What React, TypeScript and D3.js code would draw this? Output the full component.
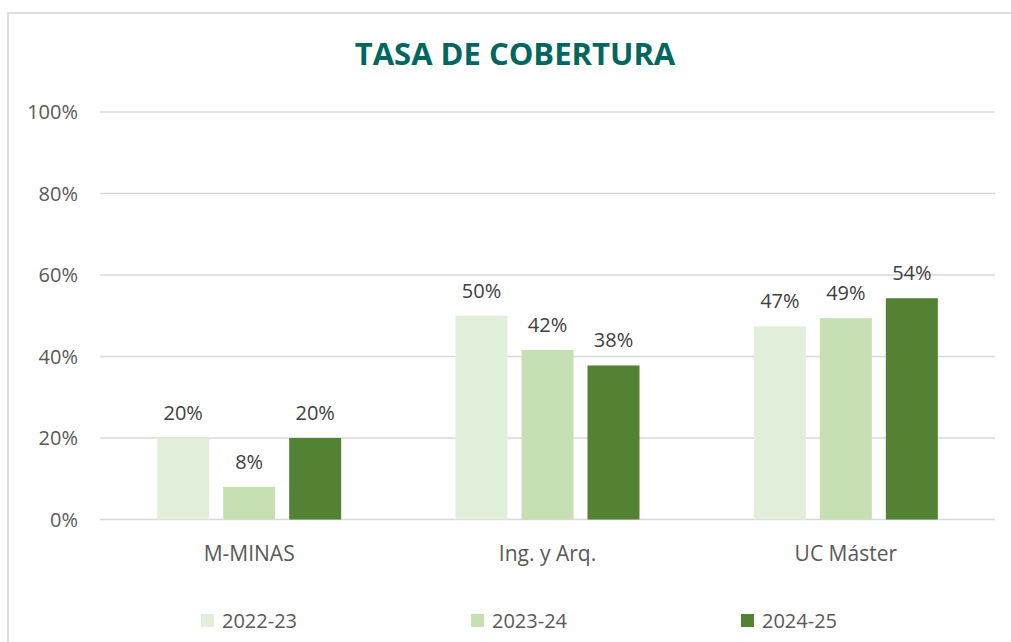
import React from "react";
import * as d3 from "d3";

const categories = ["M-MINAS", "Ing. y Arq.", "UC Máster"];
const seriesNames = ["2022-23", "2023-24", "2024-25"];
const values2022 = [0.2, 0.5, 0.474];
const values2023 = [0.08, 0.416, 0.494];
const values2024 = [0.2, 0.378, 0.543];
const yTicks = [0, 0.2, 0.4, 0.6, 0.8, 1.0];
const colors = ["#E2EFDA", "#C6E0B4", "#548235"];

const W = 1011;
const H = 642;
const left = 100;
const right = 995;
const top = 112;
const bottom = 519.5;
const font = "'Open Sans', sans-serif";

export default function App() {
  const series = [values2022, values2023, values2024];
  const x = d3.scaleBand<string>().domain(categories).range([left, right]).paddingInner(0).paddingOuter(0);
  const groupW = 52 * 3 + 14 * 2;
  const inner = d3.scaleBand<string>().domain(seriesNames).range([0, groupW]).paddingInner(14 / 66).paddingOuter(0);
  const y = d3.scaleLinear().domain([0, 1]).range([bottom, top]);
  const fmt = d3.format(".0%");
  const legendX = [201, 471, 741];

  return (
    <svg width={W} height={H} style={{ position: "absolute", left: 0, top: 0, background: "#fff" }}>
      <rect x={8} y={13} width={W + 10} height={H + 10} fill="#fff" stroke="#D9D9D9" strokeWidth={1.7} />
      <text x={515} y={65} textAnchor="middle" fontFamily={font} fontWeight={700} fontSize={31} fill="#00665E">
        TASA DE COBERTURA
      </text>
      {yTicks.map((t) => (
        <g key={t}>
          <line x1={left} x2={right} y1={y(t)} y2={y(t)} stroke="#D9D9D9" strokeWidth={1.5} />
          <text x={78} y={y(t) + 7} textAnchor="end" fontFamily={font} fontSize={20} fill="#595959">
            {fmt(t)}
          </text>
        </g>
      ))}
      {categories.map((c, ci) => {
        const gx = (x(c) as number) + x.bandwidth() / 2 - groupW / 2;
        return (
          <g key={c}>
            {seriesNames.map((s, si) => {
              const v = series[si][ci];
              const bx = gx + (inner(s) as number);
              const bw = inner.bandwidth();
              return (
                <g key={s}>
                  <rect x={bx} y={y(v)} width={bw} height={y(0) - y(v)} fill={colors[si]} />
                  <text x={bx + bw / 2} y={y(v) - 18} textAnchor="middle" fontFamily={font} fontSize={20} fill="#404040">
                    {fmt(v)}
                  </text>
                </g>
              );
            })}
            <text x={(x(c) as number) + x.bandwidth() / 2} y={560.5} textAnchor="middle" fontFamily={font} fontSize={21} fill="#595959">
              {c}
            </text>
          </g>
        );
      })}
      {seriesNames.map((s, si) => (
        <g key={s}>
          <rect x={legendX[si]} y={614} width={13} height={13} fill={colors[si]} />
          <text x={legendX[si] + 21} y={627.5} fontFamily={font} fontSize={20} fill="#595959">
            {s}
          </text>
        </g>
      ))}
    </svg>
  );
}
